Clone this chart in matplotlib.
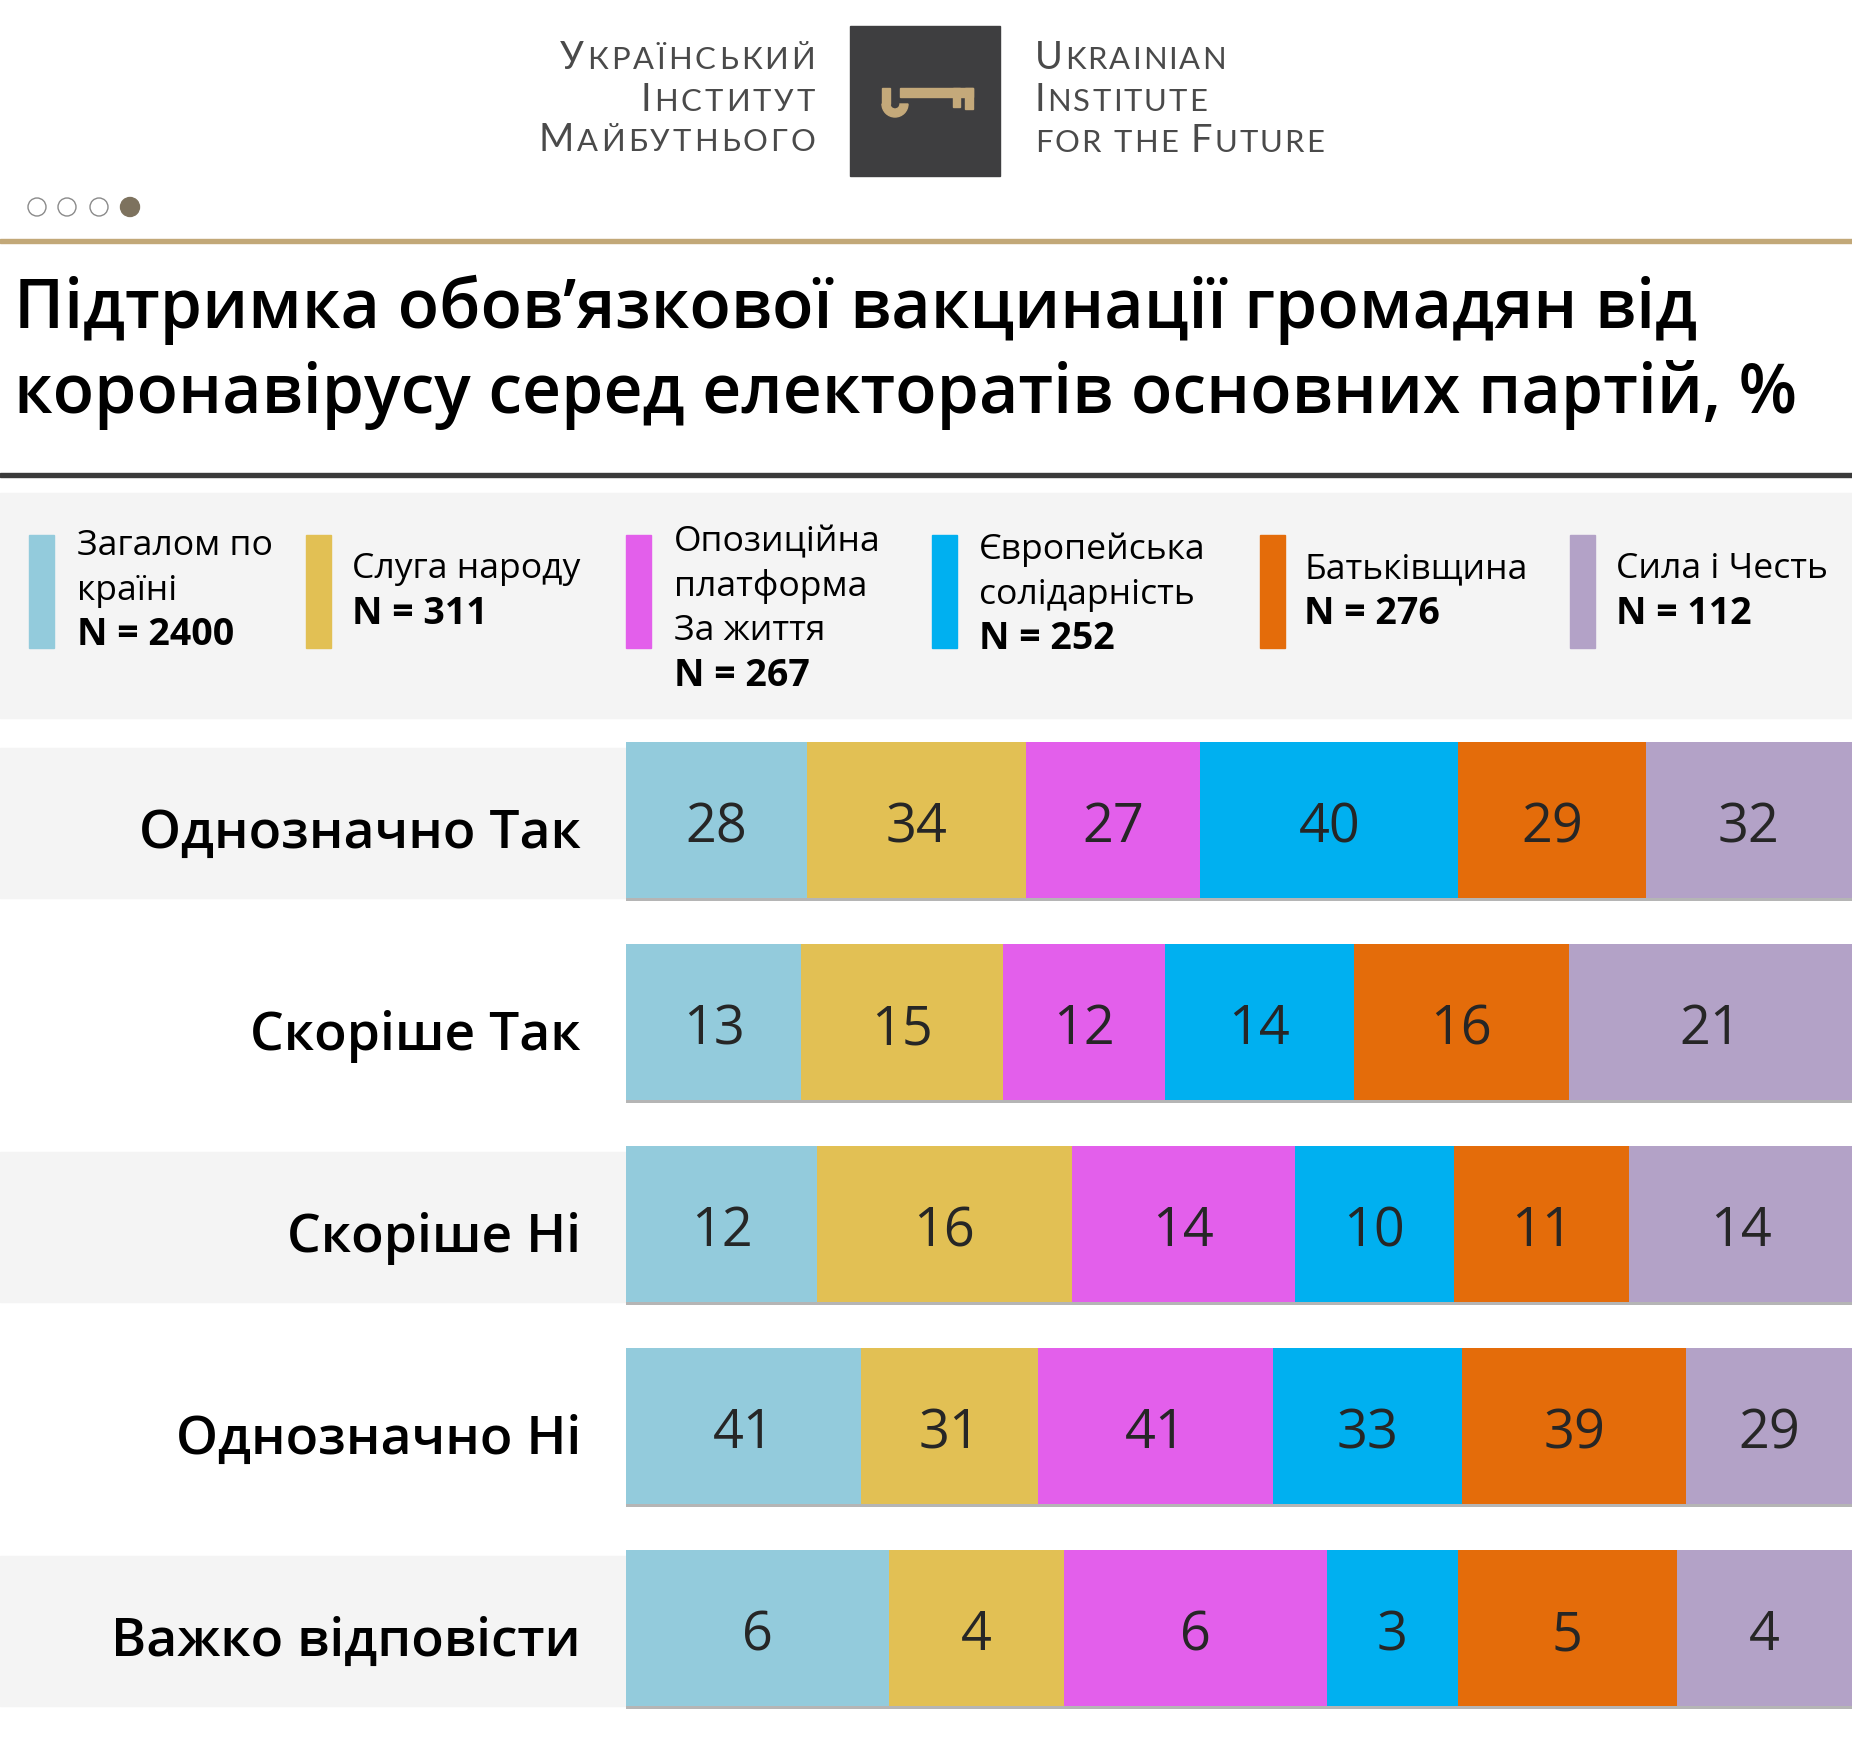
import matplotlib.pyplot as plt
from matplotlib.patches import Rectangle, Circle, Wedge

# survey data (share of each party electorate, %)
categories = ['Однозначно Так', 'Скоріше Так', 'Скоріше Ні', 'Однозначно Ні', 'Важко відповісти']
groups = ['Загалом по\nкраїні', 'Слуга народу', 'Опозиційна\nплатформа\nЗа життя',
          'Європейська\nсолідарність', 'Батьківщина', 'Сила і Честь']
group_n = [2400, 311, 267, 252, 276, 112]
total = [28, 13, 12, 41, 6]
sluha = [34, 15, 16, 31, 4]
opzzh = [27, 12, 14, 41, 6]
es = [40, 14, 10, 33, 3]
batk = [29, 16, 11, 39, 5]
syla = [32, 21, 14, 29, 4]
series = [total, sluha, opzzh, es, batk, syla]
colors = ['#93cbdc', '#e2c054', '#e35feb', '#00b0f0', '#e46c0a', '#b3a2c7']

title = 'Підтримка обов’язкової вакцинації громадян від\nкоронавірусу серед електоратів основних партій, %'

W, H = 1852, 1739
FONT = ['Open Sans', 'Noto Sans', 'DejaVu Sans']


def pt(px):
    return px * 72 / 100


fig = plt.figure(figsize=(W / 100, H / 100), dpi=100)
bg = fig.add_axes([0, 0, 1, 1])
bg.set_xlim(0, W)
bg.set_ylim(H, 0)
bg.axis('off')
renderer = fig.canvas.get_renderer()

# ---- logo ----
bg.add_patch(Rectangle((850, 26), 150, 150, color='#3e3e40'))
gold = '#c4a97a'
bg.add_patch(Wedge((895, 104), 13, 0, 180, width=8, color=gold))
bg.add_patch(Rectangle((882, 88), 8, 16, color=gold))
bg.add_patch(Rectangle((900, 88), 73, 9, color=gold))
bg.add_patch(Rectangle((953, 88), 7, 19, color=gold))
bg.add_patch(Rectangle((965, 88), 8, 21, color=gold))


def small_caps(x, y, s, ha, track=3.0):
    # one letter at a time so the letters can be spaced out like the logo
    texts = []
    for ch in s:
        t = bg.text(0, y, ch.upper(), fontsize=pt(38) if ch.isupper() else pt(31),
                    family=['Lato', 'Noto Sans'], color='#4a4a4a', va='baseline')
        texts.append(t)
    widths = [t.get_window_extent(renderer).width + track if t.get_text() != ' ' else 11
              for t in texts]
    full = sum(widths) - track
    cur = x - full if ha == 'right' else x
    for t, w in zip(texts, widths):
        t.set_x(cur)
        cur += w


for s, yb in zip(['Український', 'Інститут', 'Майбутнього'], [69, 111, 151]):
    small_caps(815, yb, s, 'right')
for s, yb in zip(['Ukrainian', 'Institute', 'for the Future'], [69, 111, 152]):
    small_caps(1035, yb, s, 'left', track=2.0)

# page dots
for i, cx in enumerate([37, 67, 99, 130]):
    if i == 3:
        bg.add_patch(Circle((cx, 207), 9.5, color='#7d725e'))
    else:
        bg.add_patch(Circle((cx, 207), 9, facecolor='white', edgecolor='#8a8a8a', lw=1))

bg.add_patch(Rectangle((0, 239), W, 4, color='#c2a878'))

# ---- title ----
for line, yb in zip(title.split('\n'), [328, 413]):
    bg.text(14, yb, line, fontsize=pt(68), family=FONT, weight='semibold',
            color='black', va='baseline')
bg.add_patch(Rectangle((0, 473), W, 4, color='#3a3a3a'))

# ---- legend ----
bg.add_patch(Rectangle((0, 493), W, 225, color='#f4f4f4'))
sw_x = [29, 306, 626, 932, 1260, 1570]
txt_x = [77, 352, 674, 979, 1304, 1616]
first_y = [546, 569, 542, 550, 569, 569]
for g, n, c, sx, tx, fy in zip(groups, group_n, colors, sw_x, txt_x, first_y):
    bg.add_patch(Rectangle((sx, 535), 25, 113, color=c))
    lines = g.split('\n')
    for k, ln in enumerate(lines):
        bg.text(tx, fy + 44.5 * k, ln, fontsize=pt(35.5), family=FONT, weight='normal',
                color='black', va='center')
    bg.text(tx, fy + 44.5 * len(lines), f'N = {n}', fontsize=pt(37.5), family=FONT,
            weight='bold', color='black', va='center')

# ---- rows ----
row_top, row_h = 719, 202
nrows = len(categories)
ax_h = nrows * row_h

lab = fig.add_axes([0, 1 - (row_top + ax_h) / H, 626 / W, ax_h / H])
lab.set_xlim(0, 626)
lab.set_ylim(nrows - 0.5, -0.5)
lab.axis('off')

# size the row labels so the first one is about as wide as in the original
probe = lab.text(0, 0, categories[0], fontsize=pt(60), family=FONT, weight='semibold')
lab_px = 60 * 442 / probe.get_window_extent(renderer).width
probe.remove()

for i, cat in enumerate(categories):
    if i % 2 == 0:
        lab.add_patch(Rectangle((0, i - 0.355), 626, 0.74, color='#f4f4f4'))
    lab.text(581, i + 0.14, cat, fontsize=pt(lab_px), family=FONT, weight='semibold',
             color='black', ha='right', va='baseline')

ax = fig.add_axes([626 / W, 1 - (row_top + ax_h) / H, 1 - 626 / W, ax_h / H])
ax.set_xlim(0, 1)
ax.set_ylim(nrows - 0.5, -0.5)
ax.axis('off')
for i in range(nrows):
    vals = [s[i] for s in series]
    tot = sum(vals)
    left = 0
    ax.barh(i + 0.016, 1, height=0.772, left=0, color='#b5b5b5', zorder=1)
    for v, c in zip(vals, colors):
        w = v / tot
        ax.barh(i, w, height=0.772, left=left, color=c, zorder=2, linewidth=0)
        ax.text(left + w / 2, i + 0.11, str(v), fontsize=pt(54), family=FONT,
                color='#262626', ha='center', va='baseline', zorder=3)
        left += w

fig.savefig('out.png', dpi=100)
